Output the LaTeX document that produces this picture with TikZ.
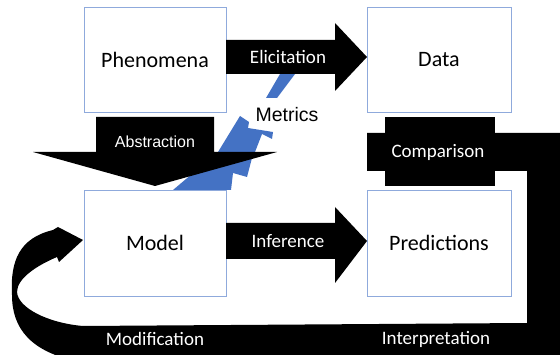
\documentclass[tikz,border=0pt]{standalone}
\usepackage{fontspec}
\setmainfont{Carlito}
\newfontfamily\helv{Liberation Sans}
\definecolor{boxblue}{RGB}{143,170,220}
\definecolor{metblue}{RGB}{68,114,196}
\begin{document}
\begin{tikzpicture}[x=1pt,y=-1pt,
  box/.style={draw=boxblue, line width=0.8pt, inner sep=0pt, minimum width=142pt, minimum height=105pt, font=\fontsize{22}{26}\selectfont},
  wlabel/.style={text=white, inner sep=0pt, font=\fontsize{19}{22}\selectfont},
  blk/.style={fill=black}]
\useasboundingbox (0,0) rectangle (560,355);
\clip (0,0) rectangle (560,355);

% boxes
\node[box] (phen) at (155,59.5) {Phenomena};
\node[box, minimum width=144pt] (data) at (439,59.5) {Data};
\node[box, minimum height=106pt] (model) at (155,243) {Model};
\node[box, minimum width=144pt, minimum height=106pt] (pred) at (439,243) {Predictions};

% metrics (blue bolt)
\fill[metblue] (240,116) -- (249,122) -- (248,128) -- (273,132) -- (272,139) -- (262,134)
  -- (255,152) -- (252,158) -- (247,177) -- (233,173) -- (231,190) -- (173,190) -- (218,152) -- cycle;
\fill[metblue] (280,74) -- (295,74) -- (277,98) -- (266,98) -- cycle;
\node[inner sep=0pt, font=\helv\fontsize{19.5}{22}\selectfont] (metrics) at (287,115) {Metrics};

% elicitation arrow
\fill[blk] (226,40) -- (335,40) -- (335,23) -- (367,57) -- (335,91) -- (335,74) -- (226,74) -- cycle;
\node[wlabel] (elic) at (288,57) {Elicitation};

% inference arrow
\fill[blk] (226,223) -- (335,223) -- (335,207) -- (367,241) -- (335,283) -- (335,259) -- (226,259) -- cycle;
\node[wlabel] (infer) at (288,241) {Inference};

% abstraction arrow
\fill[blk] (96,117) -- (214,117) -- (214,152) -- (277,152) -- (155,186) -- (33,152) -- (96,152) -- cycle;
\node[inner sep=0pt, text=white, font=\helv\fontsize{16}{18}\selectfont] (abst) at (155,142) {Abstraction};

% comparison / interpretation / modification loop
\fill[blk] (83,240) -- (58,227) -- (53,230) .. controls (20,238) and (10,260) .. (12,295)
  .. controls (12,328) and (30,352) .. (80,362) -- (560,362) -- (560,133) -- (367,133)
  -- (367,171) -- (527,171) -- (527,323) -- (83,326)
  .. controls (48,323) and (18,308) .. (17,292)
  .. controls (17,278) and (38,265) .. (57,257) -- (59,262) -- cycle;
\fill[blk] (385,117) rectangle (495,186);
\node[wlabel] (comp) at (438,152) {Comparison};
\node[wlabel] (modif) at (155,339) {Modification};
\node[wlabel] (interp) at (436,339) {Interpretation};
\end{tikzpicture}
\end{document}
